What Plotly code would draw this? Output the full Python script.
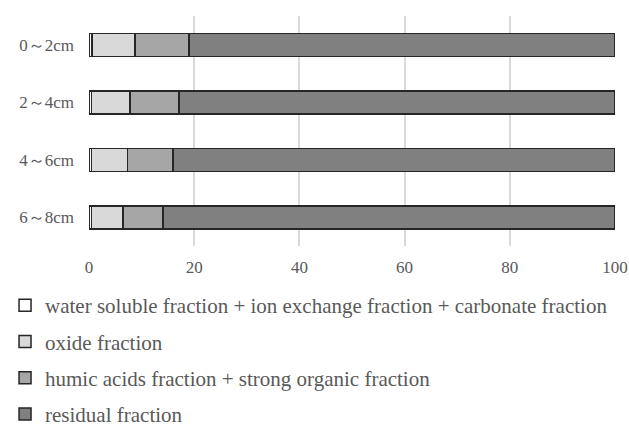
import plotly.graph_objects as go

categories = ["0～2cm", "2～4cm", "4～6cm", "6～8cm"]
series_names = [
    "water soluble fraction + ion exchange fraction + carbonate fraction",
    "oxide fraction",
    "humic acids fraction + strong organic fraction",
    "residual fraction",
]
water_soluble = [0.6, 0.5, 0.5, 0.5]
oxide = [8.1, 7.3, 6.8, 6.0]
humic = [10.3, 9.3, 8.7, 7.6]
residual = [81.0, 82.9, 84.0, 85.9]
colors = ["#FFFFFF", "#D9D9D9", "#A6A6A6", "#808080"]
x_ticks = [0, 20, 40, 60, 80, 100]

SERIF = "Liberation Serif"

fig = go.Figure()
for i, (name, vals) in enumerate(zip(series_names, [water_soluble, oxide, humic, residual])):
    fig.add_trace(go.Bar(
        y=categories, x=vals, name=name, orientation="h",
        marker=dict(color=colors[i], line=dict(color="#262626", width=1.5)),
        legendgroup=f"g{i}",
    ))

fig.update_layout(
    width=629, height=426,
    barmode="stack", bargap=0.6,
    plot_bgcolor="white", paper_bgcolor="white",
    margin=dict(l=89, r=14, t=16, b=180, autoexpand=False),
    font=dict(family=SERIF, color="#595959", size=17),
    xaxis=dict(range=[0, 100], tickvals=x_ticks, showgrid=True, gridcolor="#D9D9D9",
               gridwidth=1.5, zeroline=False, showline=False, ticks="", automargin=False,
               ticklabelstandoff=9,
               tickfont=dict(family=SERIF, size=17, color="#595959")),
    yaxis=dict(autorange="reversed", showgrid=False, zeroline=False, showline=False,
               ticks="", ticklabelstandoff=14, automargin=False,
               tickfont=dict(family=SERIF, size=17, color="#595959")),
    legend=dict(orientation="v", xref="container", yref="container",
                x=0.008, xanchor="left", y=0.331, yanchor="top",
                font=dict(family=SERIF, size=21, color="#595959"), traceorder="grouped",
                tracegroupgap=6, itemwidth=30),
    showlegend=True,
)
fig.write_html("out.html", config={"displayModeBar": False},
               post_script="document.body.style.margin='0';document.body.style.overflow='hidden';")
